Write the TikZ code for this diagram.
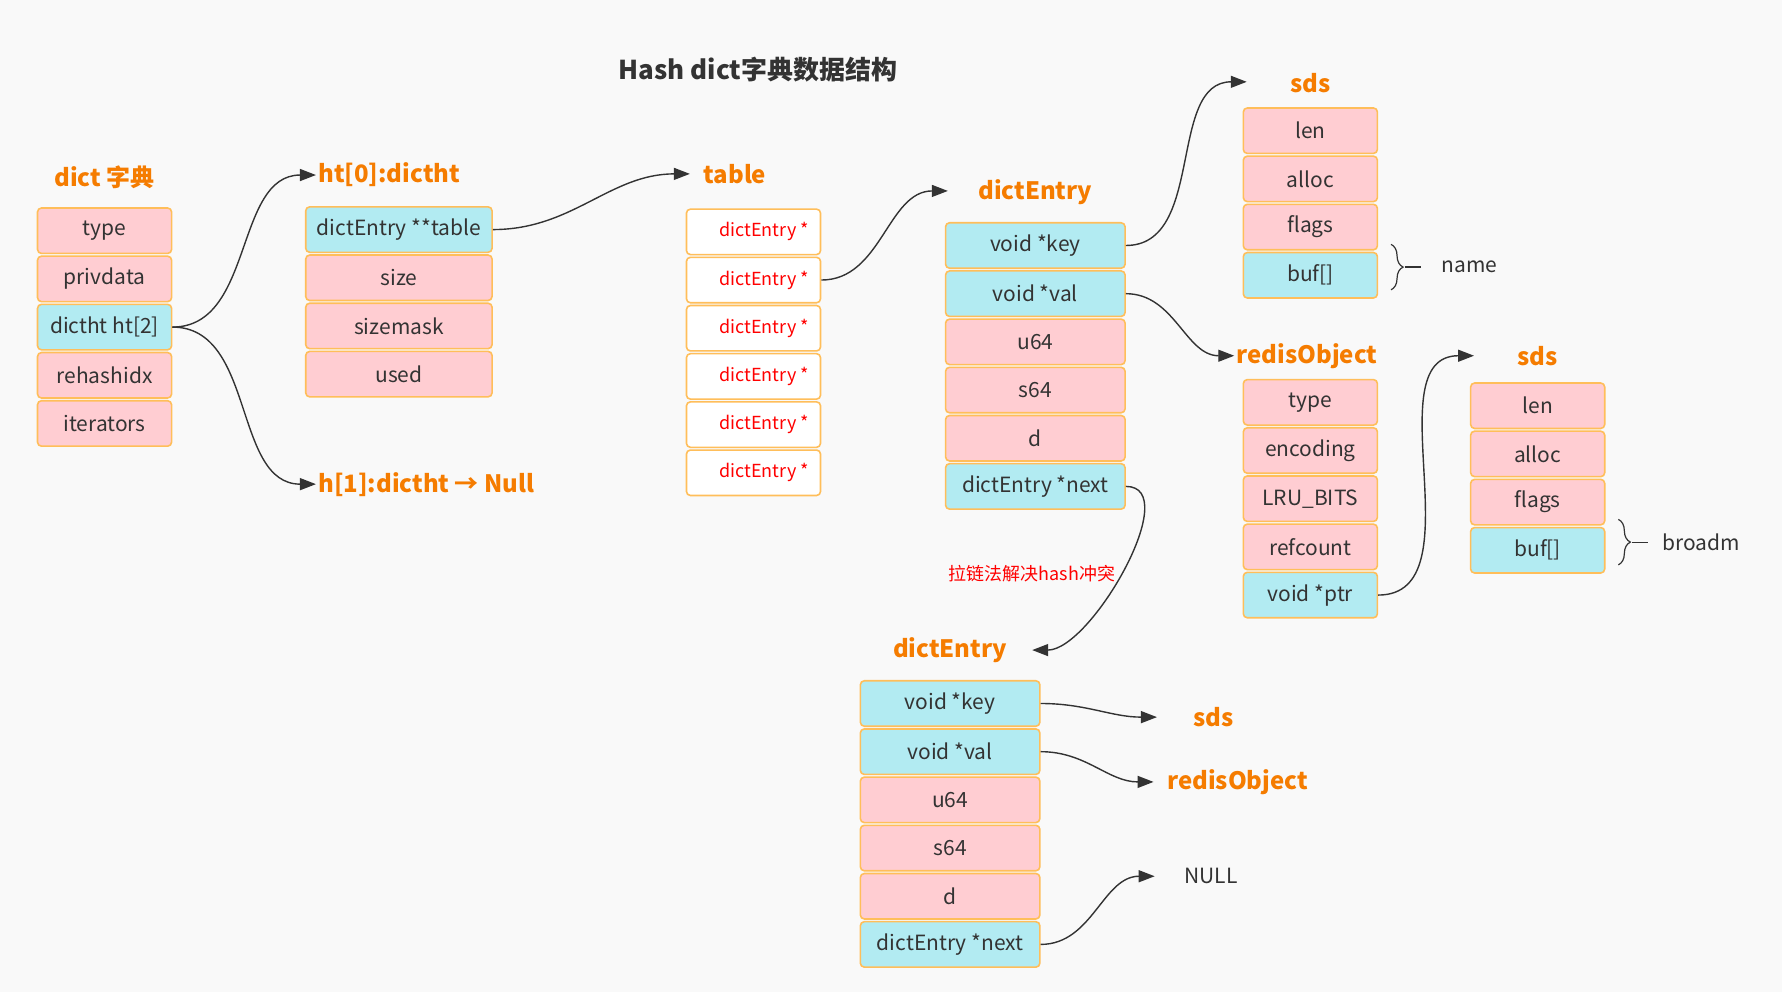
\documentclass[tikz,border=0pt]{standalone}
\usepackage{fontspec}
\setmainfont{Noto Sans CJK SC}
\usetikzlibrary{positioning,arrows.meta,decorations.pathreplacing}
\definecolor{cellpink}{RGB}{255,205,210}
\definecolor{cellcyan}{RGB}{178,235,242}
\definecolor{cellline}{RGB}{255,190,90}
\definecolor{headorange}{RGB}{245,124,0}
\definecolor{bggray}{RGB}{249,249,249}
\definecolor{txtdark}{RGB}{51,51,51}
\tikzset{
  cell/.style={draw=cellline, line width=0.8pt, rounded corners=2pt, minimum height=0.8cm,
    text=txtdark, font=\fontsize{10.5}{12}\selectfont, inner sep=0pt},
  pk/.style={cell, fill=cellpink},
  cy/.style={cell, fill=cellcyan},
  wt/.style={cell, fill=white, text=red, font=\fontsize{9}{11}\selectfont},
  head/.style={text=headorange, font=\fontsize{12}{14}\selectfont\bfseries, inner sep=1pt},
  link/.style={draw=txtdark, line width=0.7pt, -{Triangle[length=8pt,width=6pt]}},
}
\begin{document}
\begin{tikzpicture}[x=0.02cm, y=-0.02cm]
\fill[bggray] (0,0) rectangle (1568,873);
\useasboundingbox (0,0) rectangle (1568,873);

\node[text=txtdark, font=\fontsize{13}{15}\selectfont\bfseries] (title) at (667,61) {Hash dict字典数据结构};

% dict
\node[head] (hdict) at (92,156) {dict 字典};
\node[pk, minimum width=2.36cm] (d1) at (92,203) {type};
\node[pk, minimum width=2.36cm, below=0.02cm of d1] (d2) {privdata};
\node[cy, minimum width=2.36cm, below=0.02cm of d2] (d3) {dictht ht[2]};
\node[pk, minimum width=2.36cm, below=0.02cm of d3] (d4) {rehashidx};
\node[pk, minimum width=2.36cm, below=0.02cm of d4] (d5) {iterators};

% ht[0]
\node[head, anchor=west] (hht0) at (278,154) {ht[0]:dictht};
\node[head, anchor=west] (hht1) at (278,426) {h[1]:dictht → Null};
\node[cy, minimum width=3.28cm] (t1) at (351,202) {dictEntry **table};
\node[pk, minimum width=3.28cm, below=0.02cm of t1] (t2) {size};
\node[pk, minimum width=3.28cm, below=0.02cm of t2] (t3) {sizemask};
\node[pk, minimum width=3.28cm, below=0.02cm of t3] (t4) {used};

% table
\node[head, anchor=west] (htab) at (617,153) {table};
\node[wt, minimum width=2.36cm] (b1) at (663,204) {\hspace{1.2em}dictEntry *};
\foreach \i [count=\j from 1] in {2,...,6}
  \node[wt, minimum width=2.36cm, below=0.02cm of b\j] (b\i) {\hspace{1.2em}dictEntry *};

% dictEntry 1
\node[head] (hde1) at (911,169) {dictEntry};
\coordinate (hde1in) at (834,168);
\node[cy, minimum width=3.16cm] (e1) at (911,216) {void *key};
\node[cy, minimum width=3.16cm, below=0.02cm of e1] (e2) {void *val};
\node[pk, minimum width=3.16cm, below=0.02cm of e2] (e3) {u64};
\node[pk, minimum width=3.16cm, below=0.02cm of e3] (e4) {s64};
\node[pk, minimum width=3.16cm, below=0.02cm of e4] (e5) {d};
\node[cy, minimum width=3.16cm, below=0.02cm of e5] (e6) {dictEntry *next};

% sds 1
\node[head] (hsds1) at (1153,73) {sds};
\coordinate (hsds1in) at (1097,72);
\node[pk, minimum width=2.36cm] (s1) at (1153,115) {len};
\node[pk, minimum width=2.36cm, below=0.02cm of s1] (s2) {alloc};
\node[pk, minimum width=2.36cm, below=0.02cm of s2] (s3) {flags};
\node[cy, minimum width=2.36cm, below=0.02cm of s3] (s4) {buf[]};
\node[text=txtdark, font=\fontsize{10.5}{12}\selectfont] (name) at (1293,235) {name};
\draw[txtdark, line width=0.6pt, decorate, decoration={brace, amplitude=6pt}]
  (1224,215) -- (1224,255);
\draw[txtdark, line width=0.6pt] (1236,235) -- (1250,235);

% redisObject
\node[head] (hobj) at (1150,313) {redisObject};
\node[pk, minimum width=2.36cm] (o1) at (1153,354) {type};
\node[pk, minimum width=2.36cm, below=0.02cm of o1] (o2) {encoding};
\node[pk, minimum width=2.36cm, below=0.02cm of o2] (o3) {LRU\_BITS};
\node[pk, minimum width=2.36cm, below=0.02cm of o3] (o4) {refcount};
\node[cy, minimum width=2.36cm, below=0.02cm of o4] (o5) {void *ptr};

% sds 2
\node[head] (hsds2) at (1353,313) {sds};
\coordinate (hsds2in) at (1297,313);
\node[pk, minimum width=2.36cm] (r1) at (1353,357) {len};
\node[pk, minimum width=2.36cm, below=0.02cm of r1] (r2) {alloc};
\node[pk, minimum width=2.36cm, below=0.02cm of r2] (r3) {flags};
\node[cy, minimum width=2.36cm, below=0.02cm of r3] (r4) {buf[]};
\node[text=txtdark, font=\fontsize{10.5}{12}\selectfont] (broadm) at (1497,477) {broadm};
\draw[txtdark, line width=0.6pt, decorate, decoration={brace, amplitude=6pt}]
  (1424,457) -- (1424,497);
\draw[txtdark, line width=0.6pt] (1436,477) -- (1450,477);

% dictEntry 2
\node[text=red, font=\fontsize{9}{11}\selectfont] (chain) at (908,505) {拉链法解决hash冲突};
\node[head] (hde2) at (836,572) {dictEntry};
\node[cy, minimum width=3.16cm] (f1) at (836,619) {void *key};
\node[cy, minimum width=3.16cm, below=0.02cm of f1] (f2) {void *val};
\node[pk, minimum width=3.16cm, below=0.02cm of f2] (f3) {u64};
\node[pk, minimum width=3.16cm, below=0.02cm of f3] (f4) {s64};
\node[pk, minimum width=3.16cm, below=0.02cm of f4] (f5) {d};
\node[cy, minimum width=3.16cm, below=0.02cm of f5] (f6) {dictEntry *next};
\node[head, anchor=west] (hsds3) at (1048,631) {sds};
\node[head, anchor=west] (hobj2) at (1025,688) {redisObject};
\node[text=txtdark, font=\fontsize{10.5}{12}\selectfont, anchor=west] (null) at (1036,771) {NULL};

% links
\draw[link] (d3.east) to[out=0, in=180] (hht0.west);
\draw[link] (d3.east) to[out=0, in=180] (hht1.west);
\draw[link] (t1.east) to[out=0, in=180] ([xshift=-0.2cm]htab.west);
\draw[link] (b2.east) to[out=0, in=180] (hde1in);
\draw[link] (e1.east) to[out=0, in=180] (hsds1in);
\draw[link] (e2.east) to[out=0, in=180] (hobj.west);
\draw[link] (e6.east) to[out=0, in=0, looseness=0.8] ([xshift=0.4cm]hde2.east);
\draw[link] (o5.east) to[out=0, in=180] (hsds2in);
\draw[link] (f1.east) to[out=0, in=180] ([xshift=-0.6cm]hsds3.west);
\draw[link] (f2.east) to[out=0, in=180] ([xshift=-0.2cm]hobj2.west);
\draw[link] (f6.east) to[out=0, in=180] ([xshift=-0.4cm]null.west);
\end{tikzpicture}
\end{document}
